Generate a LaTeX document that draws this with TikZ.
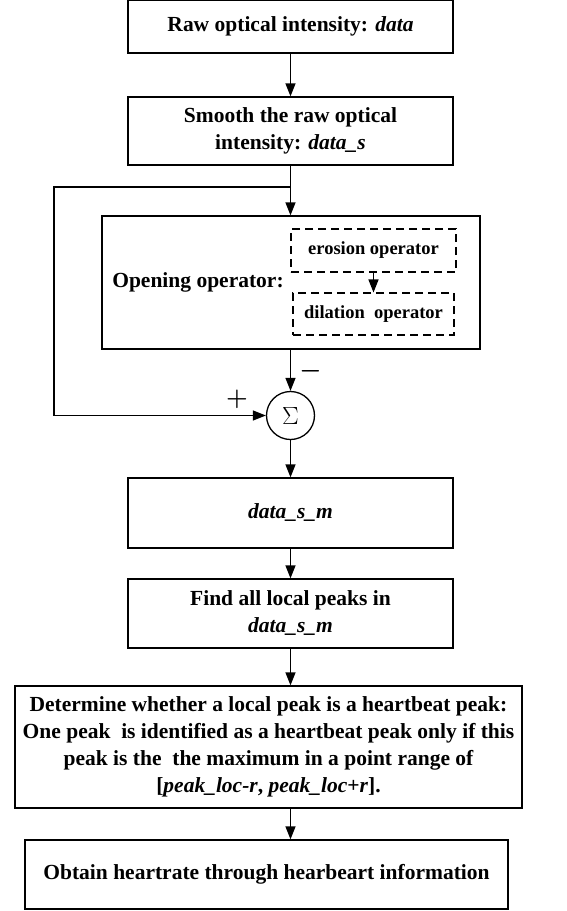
\documentclass[tikz,border=0pt]{standalone}
\usepackage{fontspec}
\setmainfont{Liberation Serif}
\usepackage{amsmath}
\usepackage{tikz}
\usetikzlibrary{arrows.meta}

\begin{document}
\begin{tikzpicture}[x=1pt,y=1pt,line width=1.3pt,
		blk/.style={draw,rectangle,align=center,inner sep=2pt,font=\fontsize{21.5}{27}\selectfont\bfseries},
		dbox/.style={draw,rectangle,dashed,dash pattern=on 8pt off 5pt,line width=1.1pt,align=center,font=\fontsize{18.5}{22}\selectfont\bfseries},
		sgn/.style={font=\fontsize{23}{23}\selectfont\boldmath},
		arr/.style={-{Triangle[length=13pt,width=10pt]}}]
	\useasboundingbox (0,0) rectangle (566,-911);
	% main column
	\node[blk,minimum width=325pt,minimum height=53pt] (raw) at (290.5,-26.5) {Raw optical intensity: \textit{data}};
	\node[blk,minimum width=325pt,minimum height=68pt] (smooth) at (290.5,-131) {Smooth the raw optical\\intensity: \textit{data\_s}};
	\node[blk,minimum width=378pt,minimum height=133pt] (open) at (291,-282.5) {};
	\node[font=\fontsize{21.5}{27}\selectfont\bfseries] (opentxt) at (198,-282) {Opening operator:};
	\node[dbox,minimum width=165pt,minimum height=43pt] (ero) at (373.5,-250.5) {erosion operator};
	\node[dbox,minimum width=161pt,minimum height=42pt] (dil) at (373.5,-314) {dilation\ \ operator};
	\node[draw,circle,minimum size=48pt,inner sep=0pt,font=\fontsize{28}{28}\selectfont] (sum) at (290.5,-415.5) {$\Sigma$};
	\node[blk,minimum width=325pt,minimum height=70pt] (dsm) at (290.5,-513) {\textit{data\_s\_m}};
	\node[blk,minimum width=325pt,minimum height=69pt] (find) at (290.5,-613.5) {Find all local peaks in\\\textit{data\_s\_m}};
	\node[blk,minimum width=507pt,minimum height=122pt] (det) at (268.5,-747) {Determine whether a local peak is a heartbeat peak:\\One peak\ \ is identified as a heartbeat peak only if this\\peak is the\ \ the maximum in a point range of\\{}[\textit{peak\_loc-r}, \textit{peak\_loc}+\textit{r}].};
	\node[blk,minimum width=483pt,minimum height=69pt] (obt) at (266.5,-874.5) {Obtain heartrate through hearbeart information};
	\coordinate (split) at (290.5,-187);
	\coordinate (fb) at (54,-187);
	% connectors
	\draw[arr] (raw.south) -- (smooth.north);
	\draw[arr] (smooth.south) -- (open.north -| split);
	\draw[arr] (split) -- (fb) |- (sum.west);
	\draw[arr] (ero.south) -- (dil.north);
	\draw[arr] (open.south -| sum) -- (sum.north);
	\draw[arr] (sum.south) -- (dsm.north);
	\draw[arr] (dsm.south) -- (find.north);
	\draw[arr] (find.south) -- (find.south |- det.north);
	\draw[arr] (det.south -| find.south) -- (find.south |- obt.north);
	\node[sgn] (minus) at (310.5,-371) {$-$};
	\node[sgn] (plus) at (237,-399) {$+$};
\end{tikzpicture}
\end{document}
